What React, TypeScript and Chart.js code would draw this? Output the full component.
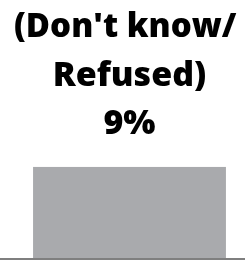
import React, { useEffect, useRef } from "react";
import { Chart, registerables } from "chart.js";

Chart.register(...registerables);

const categories = ["(Don't know/ Refused)"];
const values = [9];
const titleLines = ["(Don't know/ ", "Refused)", "9%"];

const baselinePlugin = {
  id: "baseline",
  afterDatasetsDraw(chart: any) {
    const { ctx, width } = chart;
    const y = chart.scales.y.getPixelForValue(0);
    ctx.save();
    ctx.fillStyle = "#7f7f7f";
    ctx.fillRect(0, y, width, 2);
    ctx.restore();
  },
};

export default function App() {
  const ref = useRef<HTMLCanvasElement>(null);
  useEffect(() => {
    document.body.style.margin = "0";
    const chart = new Chart(ref.current!, {
      type: "bar",
      data: {
        labels: categories,
        datasets: [
          {
            data: values,
            backgroundColor: "#a9aaad",
            borderWidth: 0,
            barPercentage: 0.835,
            categoryPercentage: 1,
          },
        ],
      },
      options: {
        animation: false,
        responsive: false,
        layout: { padding: { left: 14, right: 0, top: 0, bottom: 2 } },
        plugins: {
          legend: { display: false },
          tooltip: { enabled: false },
          title: {
            display: true,
            text: titleLines,
            color: "#000",
            font: { family: "'Open Sans'", size: 34, weight: "800", lineHeight: 1.43 },
            padding: { top: 3, bottom: 18 },
          },
        },
        scales: {
          x: { display: false },
          y: { display: false, min: 0, max: 9 },
        },
      },
      plugins: [baselinePlugin],
    });
    return () => chart.destroy();
  }, []);
  return (
    <div style={{ position: "absolute", left: 0, top: 0, width: 245, height: 260 }}>
      <canvas ref={ref} width={245} height={260} style={{ display: "block" }} />
    </div>
  );
}
